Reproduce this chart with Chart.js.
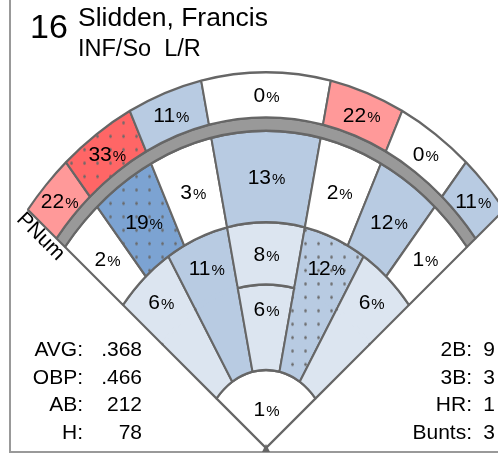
<!DOCTYPE html>
<html>
<head>
<meta charset="utf-8">
<script src="https://cdn.jsdelivr.net/npm/chart.js@4/dist/chart.umd.min.js"></script>
<style>
  html, body { margin: 0; padding: 0; background: #fff; }
  body { width: 498px; height: 454px; position: relative; overflow: hidden;
         font-family: "Liberation Sans", Arial, sans-serif; color: #000; }
  #frame { position: absolute; left: 9px; top: 0; width: 489px; height: 451px;
           border-left: 2px solid #999; border-bottom: 2px solid #999; }
  canvas { position: absolute; left: 0; top: 0; }
  .t { position: absolute; line-height: 1; white-space: pre; }
  .stats { position: absolute; top: 335px; display: grid; font-size: 21px;
           line-height: 27.7px; text-align: right; white-space: pre; }
</style>
</head>
<body>
<div id="frame"></div>
<canvas id="spray" width="498" height="454"></canvas>
<div id="head"></div>
<div class="stats" id="statsL" style="left:0; grid-template-columns: 83px 59px;"></div>
<div class="stats" id="statsR" style="right:3px; grid-template-columns: auto 23px;"></div>

<script>
/* ---------- Player ---------- */
const playerNum  = '16';
const playerName = 'Slidden, Francis';
const playerInfo = 'INF/So  L/R';

/* ---------- Spray % by zone (left field line -> right field line) ---------- */
const homePct          = [1];
const infieldPct       = [6, 11, 6, 12, 6];
const infieldDeepPct   = [null, null, 8, null, null];   // null = zone is one cell, full infield depth
const outfieldPct      = [2, 19, 3, 13, 2, 12, 1];
const deepPct          = [22, 33, 11, 0, 22, 0, 11];

// zones marked with dots
const dottedInfield  = [3];
const dottedOutfield = [1];
const dottedDeep     = [1];

/* ---------- Stats ---------- */
const statLabelsL = ['AVG:', 'OBP:', 'AB:', 'H:'];
const statValuesL = ['.368', '.466', '212', '78'];
const statLabelsR = ['2B:', '3B:', 'HR:', 'Bunts:'];
const statValuesR = ['9', '3', '1', '3'];

/* ---------- Field layout ---------- */
const STRETCH = 1.22;                 // field drawn taller than wide
const FOUL = 45;                      // foul line angle on screen
const outfieldEdges = [10, 22, 35];   // screen angles of zone borders
const infieldEdges  = [10, 27];
const RADIUS = 308;
const FONT = '"Liberation Sans", Arial, sans-serif';

// screen angle -> doughnut angle (before vertical stretch)
const toChartDeg = a => Math.atan(STRETCH * Math.tan(a * Math.PI / 180)) * 180 / Math.PI;

function spans(edges){
  const b = [-FOUL, ...edges.slice().reverse().map(e => -e), ...edges, FOUL].map(toChartDeg);
  return b.slice(1).map((v, i) => v - b[i]);
}

function heat(v){
  if (v == null) return '#fff';
  if (v >= 30) return '#FF6666';
  if (v >= 20) return '#FF9999';
  if (v >= 16) return '#7CA3D2';
  if (v >= 10) return '#B8CBE2';
  if (v >= 5)  return '#DCE5F0';
  return '#FFFFFF';
}

function dotted(color){
  const c = document.createElement('canvas');
  c.width = 13; c.height = 11;
  const g = c.getContext('2d');
  g.fillStyle = color; g.fillRect(0, 0, 13, 11);
  g.fillStyle = '#6a6a6a';
  g.beginPath(); g.arc(6.5, 5.5, 1.3, 0, Math.PI * 2); g.fill();
  return g.createPattern(c, 'repeat');
}

const fills = (vals, dots) => vals.map((v, i) => dots.includes(i) ? dotted(heat(v)) : heat(v));

const infieldOuterVals = infieldPct.map((v, i) => infieldDeepPct[i] ?? v);
const infieldInnerShown = infieldPct.map((v, i) => infieldDeepPct[i] === null ? null : v);

const ofSpans = spans(outfieldEdges);
const ifSpans = spans(infieldEdges);

/* ---------- Labels / seams plugin ---------- */
function drawPct(ctx, v, x, y){
  const n = String(v);
  ctx.font = '21px ' + FONT;
  const w1 = ctx.measureText(n).width;
  ctx.font = '15px ' + FONT;
  const w2 = ctx.measureText('%').width;
  const sx = x - (w1 + w2) / 2;
  ctx.fillStyle = '#000';
  ctx.textAlign = 'left';
  ctx.textBaseline = 'alphabetic';
  ctx.font = '21px ' + FONT;
  ctx.fillText(n, sx, y + 7.5);
  ctx.font = '15px ' + FONT;
  ctx.fillText('%', sx + w1 + 1, y + 7.5);
}

const fieldPlugin = {
  id: 'field',
  beforeDatasetsDraw(chart){
    const a = chart.getDatasetMeta(0).data[0];
    const ctx = chart.ctx;
    ctx.save();
    ctx.translate(0, a.y); ctx.scale(1, STRETCH); ctx.translate(0, -a.y);
  },
  afterDatasetsDraw(chart){
    const ctx = chart.ctx;
    // remove the seam inside infield zones that are a single cell
    chart.getDatasetMeta(3).data.forEach((a, i) => {
      if (infieldDeepPct[i] !== null) return;
      const bw = a.options.borderWidth;
      const d = (bw / 2 + 0.2) / a.innerRadius;
      ctx.beginPath();
      ctx.arc(a.x, a.y, a.innerRadius, a.startAngle + d, a.endAngle - d);
      ctx.lineWidth = bw + 2;
      ctx.strokeStyle = a.options.backgroundColor;
      ctx.stroke();
    });
    ctx.restore();

    // percentage labels
    chart.data.datasets.forEach((ds, di) => {
      chart.getDatasetMeta(di).data.forEach((a, i) => {
        const v = ds.shown[i];
        if (v == null) return;
        const mid = (a.startAngle + a.endAngle) / 2;
        const r = a.innerRadius + (a.outerRadius - a.innerRadius) * (ds.labelAt ?? 0.5);
        drawPct(ctx, v, a.x + r * Math.cos(mid), a.y + STRETCH * r * Math.sin(mid));
      });
    });

    // home plate marker
    const h = chart.getDatasetMeta(5).data[0];
    ctx.fillStyle = '#666';
    ctx.beginPath();
    ctx.moveTo(h.x, h.y - 4); ctx.lineTo(h.x + 4, h.y + 4); ctx.lineTo(h.x - 4, h.y + 4);
    ctx.closePath(); ctx.fill();

    // PNum along the left foul line
    const e = chart.getDatasetMeta(0).data[0];
    const px = e.x + e.outerRadius * Math.cos(e.startAngle);
    const py = e.y + STRETCH * e.outerRadius * Math.sin(e.startAngle);
    const ang = Math.atan2(e.y - py, e.x - px);
    ctx.save();
    ctx.translate(px, py);
    ctx.rotate(ang);
    ctx.font = '21px ' + FONT;
    ctx.textAlign = 'center';
    ctx.textBaseline = 'middle';
    ctx.fillStyle = '#000';
    ctx.fillText('PNum', 28, 10);
    ctx.restore();
  }
};

/* ---------- Chart ---------- */
const ring = (data, bg, weight, shown, extra) =>
  Object.assign({ data, backgroundColor: bg, weight, shown, borderColor: '#666', borderWidth: 2 }, extra || {});

new Chart(document.getElementById('spray'), {
  type: 'doughnut',
  data: {
    datasets: [
      ring(ofSpans, fills(deepPct, dottedDeep), 37, deepPct),
      ring([1], ['#999'], 11, [null]),
      ring(ofSpans, fills(outfieldPct, dottedOutfield), 75, outfieldPct),
      ring(ifSpans, fills(infieldOuterVals, dottedInfield), 51, infieldOuterVals),
      ring(ifSpans, fills(infieldPct, dottedInfield), 70, infieldInnerShown, { labelAt: 0.72 }),
      ring([1], [heat(homePct[0])], 64, homePct)
    ]
  },
  options: {
    responsive: false,
    animation: false,
    events: [],
    rotation: -toChartDeg(FOUL),
    circumference: 2 * toChartDeg(FOUL),
    cutout: 0,
    radius: RADIUS,
    layout: { padding: { left: 34, right: 0, top: 140, bottom: 6 } },
    plugins: { legend: { display: false }, tooltip: { enabled: false } }
  },
  plugins: [fieldPlugin]
});

/* ---------- Text ---------- */
document.getElementById('head').innerHTML =
  '<div class="t" style="left:30px;top:9px;font-size:34px">' + playerNum + '</div>' +
  '<div class="t" style="left:78px;top:4px;font-size:26.5px">' + playerName + '</div>' +
  '<div class="t" style="left:78px;top:37px;font-size:23.5px">' + playerInfo + '</div>';

function fillStats(id, labels, values){
  document.getElementById(id).innerHTML =
    labels.map((l, i) => '<span>' + l + '</span><span>' + values[i] + '</span>').join('');
}
fillStats('statsL', statLabelsL, statValuesL);
fillStats('statsR', statLabelsR, statValuesR);
</script>
</body>
</html>
